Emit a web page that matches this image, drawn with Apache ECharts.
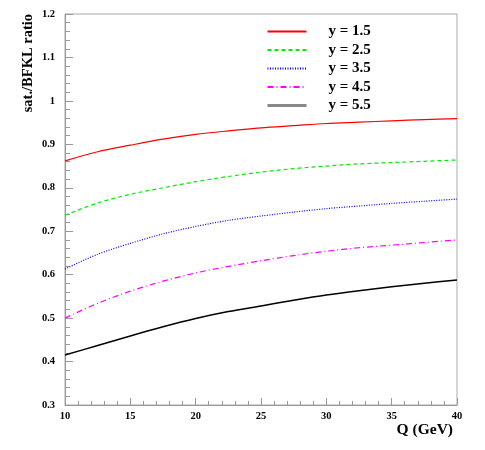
<!DOCTYPE html>
<html>
<head>
<meta charset="utf-8">
<script src="https://cdn.jsdelivr.net/npm/echarts@6/dist/echarts.min.js"></script>
<style>
  html, body { margin: 0; padding: 0; background: #fff; }
  #chart { width: 485px; height: 450px; }
</style>
</head>
<body>
<div id="chart"></div>
<script>
// Q values (GeV) and the sat./BFKL ratio for each rapidity
const qValues = [10, 12.5, 15, 17.5, 20, 22.5, 25, 27.5, 30, 32.5, 35, 37.5, 40];
const ratioY15 = [0.862, 0.883, 0.898, 0.912, 0.923, 0.931, 0.938, 0.943, 0.948, 0.951, 0.954, 0.957, 0.959];
const ratioY25 = [0.737, 0.765, 0.785, 0.800, 0.814, 0.826, 0.836, 0.844, 0.850, 0.855, 0.858, 0.861, 0.864];
const ratioY35 = [0.613, 0.647, 0.672, 0.694, 0.711, 0.725, 0.735, 0.744, 0.752, 0.758, 0.764, 0.769, 0.774];
const ratioY45 = [0.500, 0.534, 0.562, 0.585, 0.604, 0.619, 0.632, 0.644, 0.654, 0.662, 0.668, 0.674, 0.680];
const ratioY55 = [0.415, 0.437, 0.459, 0.480, 0.499, 0.515, 0.528, 0.541, 0.553, 0.563, 0.572, 0.580, 0.588];
const seriesNames = ['y = 1.5', 'y = 2.5', 'y = 3.5', 'y = 4.5', 'y = 5.5'];

const serif = '"Liberation Serif", "DejaVu Serif", serif';
const axisGray = '#999';

function pairs(vals) {
  return qValues.map((q, i) => [q, vals[i]]);
}

function lineSeries(name, vals, color, width, dash) {
  return {
    name: name, type: 'line', data: pairs(vals),
    smooth: 0.3,
    symbol: 'none', animation: false,
    itemStyle: { color: color },
    lineStyle: { color: color, width: width, type: dash }
  };
}

const chart = echarts.init(document.getElementById('chart'));
chart.setOption({
  backgroundColor: '#fff',
  grid: {
    left: 65, right: 28, top: 14, bottom: 45,
    show: true, borderColor: '#aaa', borderWidth: 1
  },
  legend: {
    orient: 'vertical', left: 261, top: 19,
    itemWidth: 39, itemHeight: 14, itemGap: 3.5,
    itemStyle: { opacity: 0 },
    textStyle: { fontFamily: serif, fontWeight: 'bold', fontSize: 15, color: '#000', padding: [0, 0, 0, 17] },
    data: [
      { name: seriesNames[0] },
      { name: seriesNames[1] },
      { name: seriesNames[2] },
      { name: seriesNames[3] },
      { name: seriesNames[4], lineStyle: { color: '#888', width: 3 } }
    ]
  },
  xAxis: {
    type: 'value', min: 10, max: 40, interval: 5,
    axisLine: { lineStyle: { color: axisGray } },
    axisTick: { inside: true, length: 7, lineStyle: { color: axisGray } },
    minorTick: { show: true, splitNumber: 5, length: 4, lineStyle: { color: axisGray } },
    splitLine: { show: false },
    axisLabel: { fontFamily: serif, fontWeight: 'bold', fontSize: 10.5, color: '#000', margin: 6 }
  },
  yAxis: {
    type: 'value', min: 0.3, max: 1.2, interval: 0.1,
    axisLine: { show: true, lineStyle: { color: axisGray } },
    axisTick: { show: true, inside: true, length: 8, lineStyle: { color: axisGray } },
    minorTick: { show: true, splitNumber: 5, length: 5, lineStyle: { color: axisGray } },
    splitLine: { show: false },
    axisLabel: { fontFamily: serif, fontWeight: 'bold', fontSize: 10.5, color: '#000', margin: 10 }
  },
  graphic: [
    {
      type: 'text', x: 28, y: 14, rotation: Math.PI / 2,
      style: {
        text: 'sat./BFKL ratio', fill: '#000', align: 'right', verticalAlign: 'middle',
        font: 'bold 14.5px ' + serif
      }
    },
    {
      type: 'text', x: 453, y: 430,
      style: {
        text: 'Q (GeV)', fill: '#000', align: 'right', verticalAlign: 'middle',
        font: 'bold 15.5px ' + serif
      }
    }
  ],
  series: [
    lineSeries(seriesNames[0], ratioY15, '#ff0000', 1.2, 'solid'),
    lineSeries(seriesNames[1], ratioY25, '#00ee00', 1.2, [4, 3]),
    lineSeries(seriesNames[2], ratioY35, '#0000ff', 1.2, [1, 1.5]),
    lineSeries(seriesNames[3], ratioY45, '#ff00ff', 1.2, [6, 3, 1, 3]),
    lineSeries(seriesNames[4], ratioY55, '#000000', 1.5, 'solid')
  ]
});
</script>
</body>
</html>
